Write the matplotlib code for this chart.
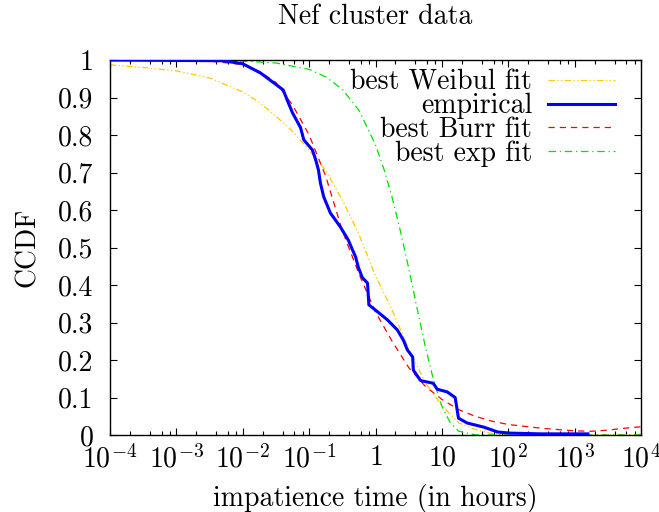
import matplotlib
matplotlib.use("Agg")
import matplotlib.pyplot as plt
import numpy as np
from matplotlib.ticker import FixedLocator, NullFormatter

plt.rcParams['font.family'] = 'cmr10'
plt.rcParams['mathtext.fontset'] = 'cm'
plt.rcParams['axes.formatter.use_mathtext'] = True

# empirical ccdf (log10 of hours, ccdf)
emp_logt = [-4.0, -2.3, -2.0, -1.73, -1.54, -1.39, -1.33, -1.25, -1.13, -1.08,
            -0.95, -0.90, -0.86, -0.83, -0.78, -0.68, -0.53, -0.41, -0.35, -0.30,
            -0.26, -0.20, -0.12, -0.10, 0.0, 0.18, 0.33, 0.42, 0.48, 0.56,
            0.57, 0.68, 0.87, 0.93, 1.08, 1.20, 1.25, 1.38, 1.63, 1.73,
            1.84, 2.03, 2.5, 3.2]
emp_ccdf = [1.0, 0.998, 0.99, 0.965, 0.94, 0.92, 0.893, 0.859, 0.82, 0.787,
            0.76, 0.733, 0.707, 0.672, 0.635, 0.592, 0.555, 0.52, 0.495, 0.475,
            0.448, 0.42, 0.405, 0.347, 0.333, 0.307, 0.28, 0.253, 0.227, 0.208,
            0.173, 0.145, 0.138, 0.122, 0.115, 0.10, 0.045, 0.032, 0.021, 0.015,
            0.008, 0.005, 0.003, 0.003]

# fitted curves
weib_logt = [-4.0, -3.5, -3.0, -2.5, -2.0, -1.75, -1.5, -1.25, -1.0, -0.75,
             -0.5, -0.25, 0.0, 0.25, 0.5, 0.75, 1.0, 1.25, 1.5, 1.75,
             2.0, 2.5, 3.0, 4.0]
weib_ccdf = [0.987, 0.98, 0.971, 0.952, 0.915, 0.887, 0.85, 0.81, 0.76, 0.705,
             0.627, 0.535, 0.425, 0.333, 0.23, 0.14, 0.078, 0.033, 0.015, 0.004,
             0.001, 0.0, 0.0, 0.0]

burr_logt = [-4.0, -3.0, -2.5, -2.0, -1.75, -1.5, -1.25, -1.0, -0.75, -0.5,
             -0.25, 0.0, 0.25, 0.5, 0.75, 1.0, 1.25, 1.5, 1.75, 2.0,
             2.5, 3.0, 3.25, 3.5, 3.75, 4.0]
burr_ccdf = [1.0, 0.999, 0.997, 0.988, 0.97, 0.94, 0.88, 0.80, 0.69, 0.545,
             0.43, 0.328, 0.25, 0.18, 0.13, 0.095, 0.068, 0.05, 0.037, 0.028,
             0.018, 0.011, 0.01, 0.013, 0.018, 0.022]

exp_logt = [-4.0, -2.0, -1.5, -1.0, -0.75, -0.5, -0.25, 0.0, 0.125, 0.25,
            0.375, 0.5, 0.625, 0.75, 0.875, 1.0, 1.125, 1.25, 1.5, 2.0, 4.0]
exp_ccdf = [1.0, 0.997, 0.992, 0.975, 0.955, 0.922, 0.866, 0.774, 0.71, 0.634,
            0.544, 0.445, 0.339, 0.236, 0.146, 0.077, 0.033, 0.0105, 0.0003, 0.0, 0.0]

xtick_pos = [1e-4, 1e-3, 1e-2, 1e-1, 1, 10, 1e2, 1e3, 1e4]
xtick_lab = [r'$10^{-4}$', r'$10^{-3}$', r'$10^{-2}$', r'$10^{-1}$', r'$1$',
             r'$10$', r'$10^{2}$', r'$10^{3}$', r'$10^{4}$']
ytick_pos = [0, 0.1, 0.2, 0.3, 0.4, 0.5, 0.6, 0.7, 0.8, 0.9, 1]
ytick_lab = ['0', '0.1', '0.2', '0.3', '0.4', '0.5', '0.6', '0.7', '0.8', '0.9', '1']

def hours(logt):
    return np.power(10.0, np.array(logt))

fs = 20

fig = plt.figure(figsize=(6.59, 5.12), dpi=100)
ax = fig.add_axes([110/659, 1-435/512, 531/659, 375/512])

ax.plot(hours(weib_logt), weib_ccdf, color='#ffc800', lw=0.9,
        dashes=(5, 2, 1, 2, 1, 2), label='best Weibul fit')
ax.plot(hours(emp_logt), emp_ccdf, color='#0000ff', lw=2.2,
        label='empirical', zorder=3)
ax.plot(hours(burr_logt), burr_ccdf, color='#ff0000', lw=0.9,
        dashes=(5, 4), label='best Burr fit')
ax.plot(hours(exp_logt), exp_ccdf, color='#00e000', lw=0.9,
        dashes=(6, 3, 1, 3), label='best exp fit')

ax.set_xscale('log')
ax.set_xlim(1e-4, 1e4)
ax.set_ylim(0, 1)

ax.set_xticks(xtick_pos)
ax.set_xticklabels(xtick_lab, fontsize=fs)
minor = [m * 10.0**d for d in range(-4, 4) for m in (2, 4, 6, 8)]
ax.xaxis.set_minor_locator(FixedLocator(minor))
ax.xaxis.set_minor_formatter(NullFormatter())
ax.set_yticks(ytick_pos)
ax.set_yticklabels(ytick_lab, fontsize=fs)

ax.tick_params(which='both', direction='in', top=True, right=True)
ax.tick_params(which='major', length=5, width=0.8)
ax.tick_params(axis='x', which='major', pad=7)
ax.tick_params(axis='y', which='major', pad=12)
ax.tick_params(which='minor', length=3, width=0.8)
for s in ax.spines.values():
    s.set_linewidth(1.0)

ax.set_xlabel('impatience time (in hours)', fontsize=fs, labelpad=8)
ax.set_ylabel('CCDF', fontsize=fs, labelpad=12)
ax.set_title('Nef cluster data', fontsize=fs, pad=26)

ax.legend(loc='upper right', bbox_to_anchor=(0.972, 1.005), frameon=False,
          markerfirst=False, fontsize=fs, handlelength=2.4, handletextpad=0.58,
          labelspacing=-0.09, borderaxespad=0.0)

fig.savefig('out.png', dpi=100)
